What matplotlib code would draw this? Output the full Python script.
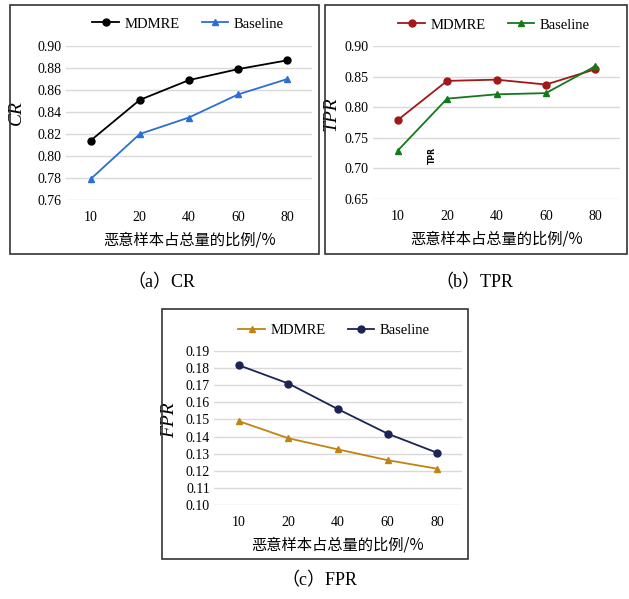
import numpy as np
import matplotlib.pyplot as plt
from matplotlib.patches import Rectangle

plt.rcParams['font.family'] = ['Liberation Serif', 'Noto Sans CJK SC']

# data
ratios = ['10', '20', '40', '60', '80']

cr_mdmre = [0.814, 0.851, 0.869, 0.879, 0.887]
cr_base = [0.779, 0.820, 0.835, 0.856, 0.870]

tpr_mdmre = [0.779, 0.843, 0.845, 0.837, 0.862]
tpr_base = [0.729, 0.814, 0.821, 0.823, 0.867]

fpr_mdmre = [0.149, 0.139, 0.1325, 0.1262, 0.1212]
fpr_base = [0.1817, 0.171, 0.156, 0.1417, 0.1305]

cr_ticks = [0.76, 0.78, 0.80, 0.82, 0.84, 0.86, 0.88, 0.90]
tpr_ticks = [0.65, 0.70, 0.75, 0.80, 0.85, 0.90]
fpr_ticks = [0.10, 0.11, 0.12, 0.13, 0.14, 0.15, 0.16, 0.17, 0.18, 0.19]

W, H = 629, 599
fig = plt.figure(figsize=(W/100, H/100), dpi=100)

def px_axes(x0, x1, ytop, ybot):
    return fig.add_axes([x0/W, 1-ybot/H, (x1-x0)/W, (ybot-ytop)/H])

def frame(x0, y0, x1, y1):
    fig.patches.append(Rectangle((x0/W, 1-y1/H), (x1-x0)/W, (y1-y0)/H,
                                 transform=fig.transFigure, fill=False,
                                 ec='#333333', lw=1.2))

def panel(ax, s1, s2, c1, c2, m1, m2, ticks, ylab, labx, laby, legx, legy):
    x = np.arange(len(ratios))
    l1, = ax.plot(x, s1, color=c1, marker=m1, ms=5, lw=1.3, clip_on=False, zorder=3)
    l2, = ax.plot(x, s2, color=c2, marker=m2, ms=5, lw=1.3, clip_on=False, zorder=3)
    ax.set_xlim(-0.5, 4.5)
    ax.set_ylim(ticks[0], ticks[-1])
    ax.set_yticks(ticks)
    ax.set_yticklabels(['%.2f' % t for t in ticks], fontsize=10)
    ax.set_xticks(x)
    ax.set_xticklabels(ratios, fontsize=10)
    ax.grid(axis='y', color='#d9d9d9', lw=1)
    ax.set_axisbelow(True)
    for s in ax.spines.values():
        s.set_visible(False)
    ax.tick_params(axis='y', length=0, pad=3)
    ax.tick_params(axis='x', length=0, pad=8)
    ax.set_ylabel(ylab, fontsize=14, style='italic')
    ax.yaxis.set_label_coords(labx, laby)
    ax.set_xlabel('恶意样本占总量的比例/%', fontsize=11,
                  family=['Noto Sans CJK SC'], labelpad=5)
    fig.legend([l1, l2], ['MDMRE', 'Baseline'], loc='center',
               bbox_to_anchor=(legx/W, 1-legy/H), ncol=2, frameon=False,
               fontsize=10.5, handlelength=1.8, columnspacing=1.5,
               handletextpad=0.4)

# (a) CR
frame(10, 5, 319, 254)
ax1 = px_axes(66, 312, 46, 200)
panel(ax1, cr_mdmre, cr_base, 'black', '#2a6fd6', 'o', '^',
      cr_ticks, 'CR', -0.167, 0.57, 188, 24)

# (b) TPR
frame(325, 5, 627, 254)
ax2 = px_axes(373, 620, 46, 199)
panel(ax2, tpr_mdmre, tpr_base, '#a01818', '#137a1a', 'o', '^',
      tpr_ticks, 'TPR', -0.134, 0.56, 494, 25)
fig.text(432/W, 1-155/H, 'TPR', rotation=90, fontsize=5.5, weight='bold',
         family='DejaVu Sans', ha='center', va='center')

# (c) FPR
frame(162, 309, 468, 559)
ax3 = px_axes(214, 462, 351, 505)
panel(ax3, fpr_mdmre, fpr_base, '#c08412', '#1c2456', '^', 'o',
      fpr_ticks, 'FPR', -0.145, 0.55, 334, 330)

# captions
fig.text(161/W, 1-283/H, '（a）CR', fontsize=13, ha='center', va='center')
fig.text(474/W, 1-283/H, '（b）TPR', fontsize=13, ha='center', va='center')
fig.text(319/W, 1-581/H, '（c）FPR', fontsize=13, ha='center', va='center')

plt.savefig('out.png', dpi=100)
